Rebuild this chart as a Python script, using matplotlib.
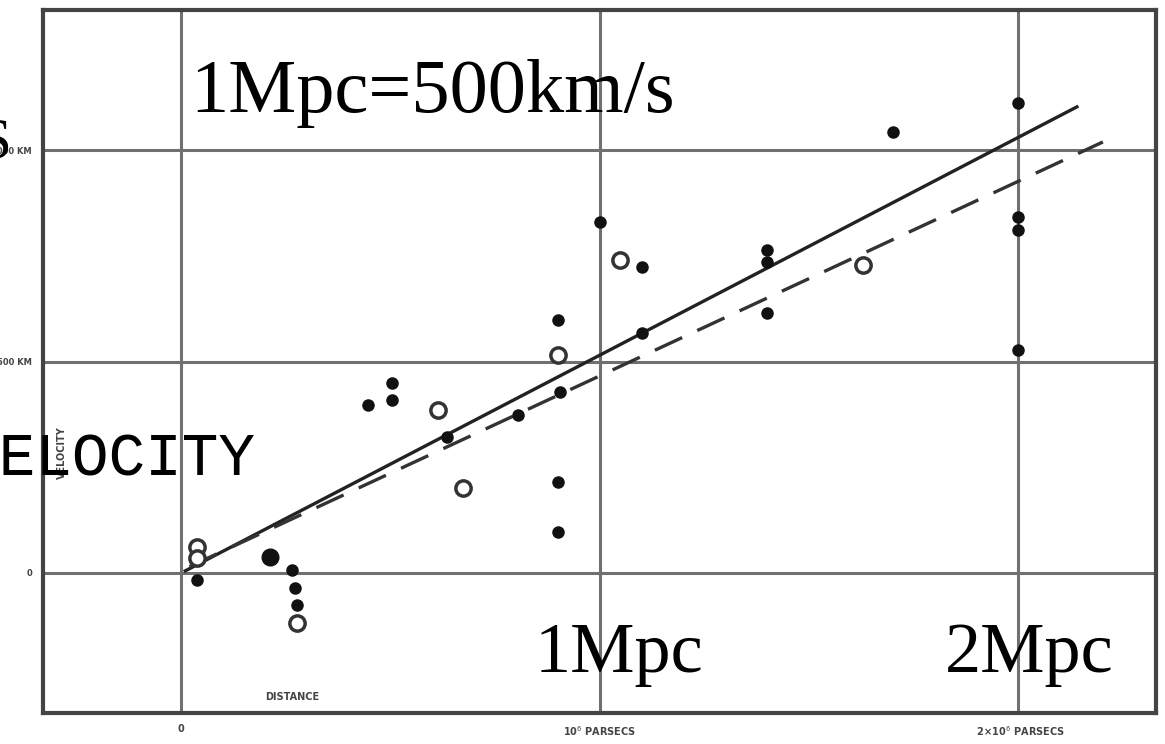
import numpy as np
import matplotlib.pyplot as plt

# individual nebulae (filled dots): distance in Mpc, velocity in km/s
neb_dist = [0.038, 0.213, 0.265, 0.272, 0.277, 0.447, 0.504, 0.504, 0.636, 0.805,
            0.901, 0.901, 0.901, 0.906, 1.001, 1.102, 1.102, 1.400, 1.400, 1.400,
            1.701, 2.000, 2.000, 2.000, 2.000]
neb_vel = [-17, 38, 7, -35, -76, 397, 449, 409, 322, 374,
           97, 215, 598, 428, 830, 567, 723, 764, 735, 615,
           1043, 1111, 842, 811, 527]

# groups (open circles)
grp_dist = [0.038, 0.038, 0.277, 0.614, 0.674, 0.901, 1.049, 1.630]
grp_vel = [61, 35, -118, 385, 201, 515, 740, 728]

# fitted lines
solid_x = [0.01, 2.141]
solid_y = [5, 1102]
dash_x = [0.02, 2.203]
dash_y = [15, 1019]

xticks = [0, 1, 2]
xlabels = ["0", "10$^{6}$ PARSECS", "  2×10$^{6}$ PARSECS"]
yticks = [0, 500, 1000]
ylabels = ["0", "500 KM", "1000 KM"]

W, H = 1165, 744
fig = plt.figure(figsize=(W / 100, H / 100), dpi=100)
ax = fig.add_axes([43 / W, 1 - 713 / H, (1156 - 43) / W, (713 - 10) / H])

ax.set_xlim(-0.330, 2.330)
ax.set_ylim(-331, 1331)

scan = "#444444"
ax.set_xticks(xticks)
ax.set_xticklabels(xlabels, fontsize=7, fontweight="bold", color=scan)
ax.set_yticks(yticks)
ax.set_yticklabels(ylabels, fontsize=6, fontweight="bold", color=scan)
ax.tick_params(length=0, pad=8)
ax.grid(True, color="#707070", lw=2.2)
ax.set_axisbelow(True)
for s in ax.spines.values():
    s.set_linewidth(3)
    s.set_color("#444444")

ax.plot(solid_x, solid_y, color="#222222", lw=2.4)
ax.plot(dash_x, dash_y, color="#333333", lw=2.4, dashes=(9, 5))

ax.plot(neb_dist, neb_vel, "o", color="#111111", ms=8, ls="none")
ax.plot([0.213], [38], "o", color="#111111", ms=12)
ax.plot(grp_dist, grp_vel, "o", mfc="white", mec="#333333", mew=2.5, ms=11, ls="none")

ax.text(0.2, -300, "DISTANCE", fontsize=7, fontweight="bold", color=scan)
fig.text(62 / W, 1 - 453 / H, "VELOCITY", rotation=90, fontsize=7,
         fontweight="bold", color=scan, ha="center", va="center")

serif = "Liberation Serif"
fig.text(190 / W, 1 - 112 / H, "1Mpc=500km/s", fontsize=55, family=serif,
         va="baseline")
fig.text(535 / W, 1 - 672 / H, "1Mpc", fontsize=52, family=serif, va="baseline")
fig.text(945 / W, 1 - 672 / H, "2Mpc", fontsize=52, family=serif, va="baseline")
fig.text(12 / W, 1 - 158 / H, "KM/S", fontsize=42, family=serif, va="baseline",
         ha="right")
fig.text(256 / W, 1 - 475 / H, "VELOCITY", fontsize=44, family="Liberation Mono",
         va="baseline", ha="right")

fig.savefig("out.png", dpi=100)
